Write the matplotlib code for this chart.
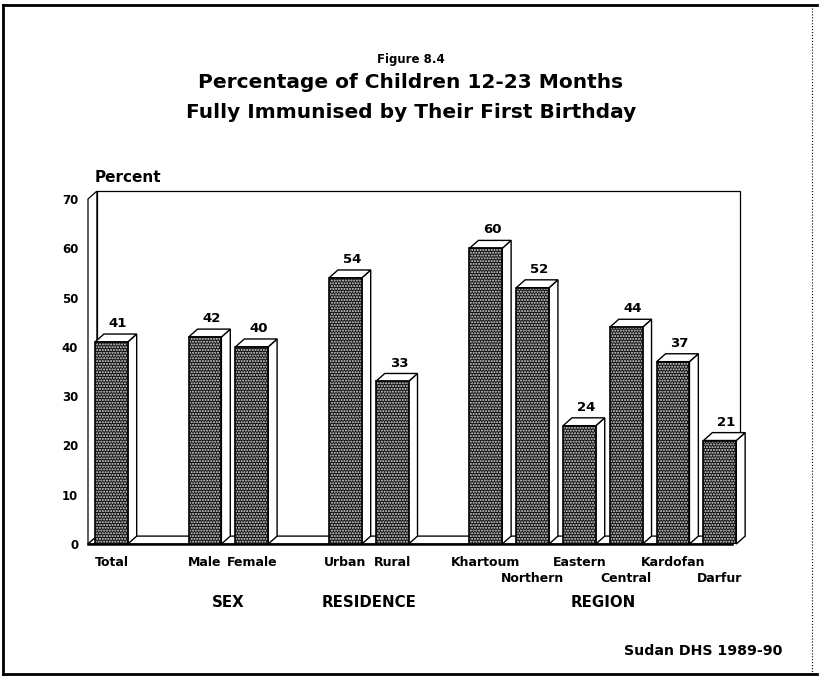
import matplotlib.pyplot as plt
from matplotlib.patches import Polygon
import matplotlib.lines as mlines

# dados (Sudan DHS 1989-90)
categories = ["Total", "Male", "Female", "Urban", "Rural",
              "Khartoum", "Northern", "Eastern", "Central", "Kardofan", "Darfur"]
groups = ["", "SEX", "SEX", "RESIDENCE", "RESIDENCE",
          "REGION", "REGION", "REGION", "REGION", "REGION", "REGION"]
values = [41, 42, 40, 54, 33, 60, 52, 24, 44, 37, 21]
yticks = [0, 10, 20, 30, 40, 50, 60, 70]

W, H = 819, 676
fig = plt.figure(figsize=(W / 100, H / 100), dpi=100)
fig.patch.set_facecolor("white")


def px(x, y):
    # pixel -> fracao da figura
    return x / W, 1 - y / H


# posicoes: um espaco vazio entre grupos
xs = []
pos = 0
prev = None
for g in groups:
    if prev is not None and g != prev:
        pos += 1
    xs.append(pos)
    pos += 1
    prev = g

ax = fig.add_axes([88 / W, 1 - 544 / H, 652 / W, 345 / H])
ax.set_xlim(-0.5, 13.43)
ax.set_ylim(0, 70)
for s in ax.spines.values():
    s.set_visible(False)
ax.set_xticks([])
ax.set_yticks(yticks)
ax.set_yticklabels([str(t) for t in yticks], fontsize=8.5, fontweight="bold")
ax.tick_params(axis="y", length=0, pad=7)

DX, DY = 0.19, 1.6
bw = 0.7
x0, x1 = -0.5, 13.43 - DX
top = yticks[-1]

# parede de fundo, parede lateral e piso
wall_kw = dict(facecolor="white", edgecolor="black", lw=0.9, clip_on=False)
ax.add_patch(Polygon([(x0 + DX, DY), (x1 + DX, DY), (x1 + DX, top + DY), (x0 + DX, top + DY)],
                     zorder=1, **wall_kw))
ax.add_patch(Polygon([(x0, 0), (x0 + DX, DY), (x0 + DX, top + DY), (x0, top)], zorder=1, **wall_kw))
ax.add_patch(Polygon([(x0, 0), (x1, 0), (x1 + DX, DY), (x0 + DX, DY)], zorder=2, **wall_kw))
ax.plot([x0, x1 + 0.02], [0, 0], color="black", lw=1.8, zorder=2, clip_on=False)

plt.rcParams["hatch.linewidth"] = 1.0
for x, v in zip(xs, values):
    l, r = x - bw / 2, x + bw / 2
    # lado e topo (3D)
    ax.add_patch(Polygon([(r, 0), (r + DX, DY), (r + DX, v + DY), (r, v)],
                         facecolor="white", edgecolor="black", lw=1.0, zorder=3, clip_on=False))
    ax.add_patch(Polygon([(l, v), (r, v), (r + DX, v + DY), (l + DX, v + DY)],
                         facecolor="white", edgecolor="black", lw=1.0, zorder=3, clip_on=False))
    ax.bar(x, v, width=bw, color="#101010", edgecolor="#e0e0e0", hatch="......", lw=0, zorder=4)
    ax.bar(x, v, width=bw, color="none", edgecolor="black", lw=1.2, zorder=5)
    ax.text(x + DX * 0.75, v + DY + 0.8, str(v), ha="center", va="bottom",
            fontsize=9.5, fontweight="bold", zorder=6)

# rotulos das categorias (regiao em duas linhas alternadas)
tr = ax.get_xaxis_transform()
ri = 0
for x, c, g in zip(xs, categories, groups):
    yy = -0.055
    if g == "REGION":
        yy = -0.055 if ri % 2 == 0 else -0.099
        ri += 1
    ax.text(x, yy, c, transform=tr, ha="center", va="center", fontsize=9, fontweight="bold")

for g in ["SEX", "RESIDENCE", "REGION"]:
    gx = [x for x, gg in zip(xs, groups) if gg == g]
    ax.text((gx[0] + gx[-1]) / 2, -0.171, g, transform=tr, ha="center", va="center",
            fontsize=10.8, fontweight="bold")

fig.text(*px(95, 177), "Percent", ha="left", va="center", fontsize=11, fontweight="bold")

# titulos
fig.text(*px(411, 60), "Figure 8.4", ha="center", va="center", fontsize=8.5, fontweight="bold")
fig.text(*px(411, 83), "Percentage of Children 12-23 Months", ha="center", va="center",
         fontsize=14.5, fontweight="bold")
fig.text(*px(411, 113), "Fully Immunised by Their First Birthday", ha="center", va="center",
         fontsize=14.5, fontweight="bold")
fig.text(*px(782, 651), "Sudan DHS 1989-90", ha="right", va="center", fontsize=10.2,
         fontweight="bold")

# moldura
for (xa, ya), (xb, yb), st in [((3, 5), (817, 5), "-"), ((3, 5), (3, 674), "-"),
                                ((3, 674), (817, 674), "-"), ((812, 5), (812, 674), ":")]:
    fig.add_artist(mlines.Line2D([xa / W, xb / W], [1 - ya / H, 1 - yb / H], color="black",
                                 lw=2 if st == "-" else 0.8, linestyle=st))

fig.savefig("out.png", dpi=100)
